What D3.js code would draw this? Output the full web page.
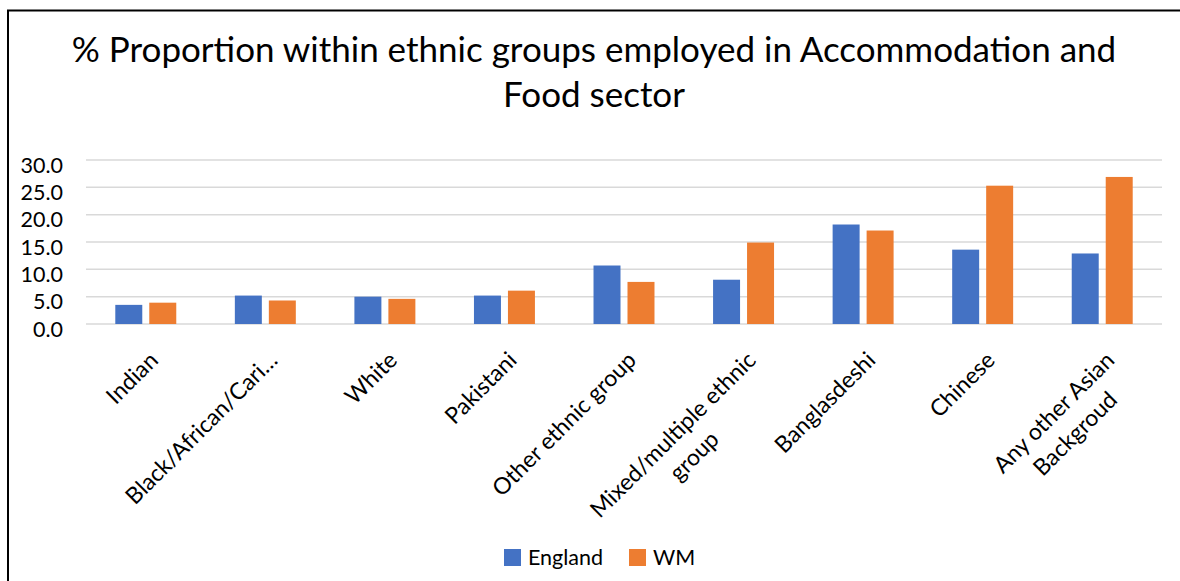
<!DOCTYPE html>
<html>
<head>
<meta charset="utf-8">
<script src="https://cdn.jsdelivr.net/npm/d3@7"></script>
<style>
  html, body { margin: 0; padding: 0; background: #fff; }
  svg { display: block; }
  text { font-family: Lato, "Open Sans", sans-serif; fill: #000; }
</style>
</head>
<body>
<svg id="chart" width="1180" height="581"></svg>
<script>
// Share of each ethnic group working in Accommodation and Food (%)
const categories = [
  "Indian",
  "Black/African/Cari…",
  "White",
  "Pakistani",
  "Other ethnic group",
  "Mixed/multiple ethnic|group",
  "Banglasdeshi",
  "Chinese",
  "Any other Asian|Backgroud"
];
const seriesNames = ["England", "WM"];
const englandValues = [3.5, 5.2, 5.0, 5.2, 10.7, 8.1, 18.2, 13.6, 12.9];
const wmValues = [3.9, 4.3, 4.6, 6.1, 7.7, 14.9, 17.1, 25.3, 26.9];
const yTicks = [0, 5, 10, 15, 20, 25, 30];
const colors = ["#4472C4", "#ED7D31"];
const titleLines = [
  "% Proportion within ethnic groups employed in Accommodation and",
  "Food sector"
];

const svg = d3.select("#chart");

// Outer frame
svg.append("rect")
  .attr("x", 8).attr("y", 10.5)
  .attr("width", 1200).attr("height", 600)
  .attr("fill", "none").attr("stroke", "#000").attr("stroke-width", 2);

// Title
const title = svg.append("text")
  .attr("text-anchor", "middle")
  .style("font-size", "35px");
title.selectAll("tspan").data(titleLines).join("tspan")
  .attr("x", 594)
  .attr("y", (d, i) => 62 + i * 45)
  .text(d => d);

const plot = { left: 86, right: 1162, top: 160, bottom: 324 };

const y = d3.scaleLinear().domain([0, 30]).range([plot.bottom, plot.top]);
const x0 = d3.scaleBand().domain(categories).range([plot.left, plot.right])
  .paddingInner(0.49).paddingOuter(0.245);
const x1 = d3.scaleBand().domain(seriesNames).range([0, x0.bandwidth()])
  .paddingInner(0.206);

// Gridlines
svg.append("g").selectAll("line").data(yTicks).join("line")
  .attr("x1", plot.left).attr("x2", plot.right)
  .attr("y1", d => y(d)).attr("y2", d => y(d))
  .attr("stroke", "#D9D9D9").attr("stroke-width", 1.5);

// Y axis labels
const yAxis = d3.axisLeft(y).tickValues(yTicks).tickFormat(d3.format(".1f")).tickSize(0).tickPadding(0);
const yg = svg.append("g").attr("transform", "translate(63,0)").call(yAxis);
yg.select(".domain").remove();
yg.selectAll("text")
  .attr("dy", null)
  .attr("y", 12)
  .style("font-family", "Lato, sans-serif")
  .style("font-size", "21.5px")
  .attr("fill", "#000");

// Bars
const rows = categories.map((c, i) => ({ cat: c, vals: [englandValues[i], wmValues[i]] }));
const groups = svg.append("g").selectAll("g").data(rows).join("g")
  .attr("transform", d => `translate(${x0(d.cat)},0)`);
groups.selectAll("rect")
  .data(d => d.vals.map((v, j) => ({ key: seriesNames[j], v, j })))
  .join("rect")
  .attr("x", d => x1(d.key))
  .attr("width", x1.bandwidth())
  .attr("y", d => y(d.v))
  .attr("height", d => y(0) - y(d.v))
  .attr("fill", d => colors[d.j]);

// Category labels, rotated -45°; wrapped lines centred under the first
const lineH = 30;
const labels = svg.append("g").selectAll("g").data(categories).join("g")
  .attr("transform", d => `translate(${x0(d) + x0.bandwidth() / 2 + 2},350) rotate(-45)`)
  .style("font-size", "23px");
labels.each(function(d) {
  const g = d3.select(this);
  const parts = d.split("|");
  const first = g.append("text")
    .attr("text-anchor", "end")
    .attr("dy", "0.72em")
    .text(parts[0]);
  const w = first.node().getComputedTextLength();
  parts.slice(1).forEach((p, k) => {
    g.append("text")
      .attr("text-anchor", "middle")
      .attr("x", -w / 2)
      .attr("y", lineH * (k + 1))
      .attr("dy", "0.72em")
      .text(p);
  });
});

// Legend
const legend = svg.append("g").selectAll("g").data(seriesNames).join("g")
  .attr("transform", (d, i) => `translate(${i === 0 ? 504 : 629},549)`);
legend.append("rect")
  .attr("width", 17).attr("height", 17)
  .attr("fill", (d, i) => colors[i]);
legend.append("text")
  .attr("x", 24).attr("y", 16)
  .style("font-size", "21.5px")
  .text(d => d);
</script>
</body>
</html>
